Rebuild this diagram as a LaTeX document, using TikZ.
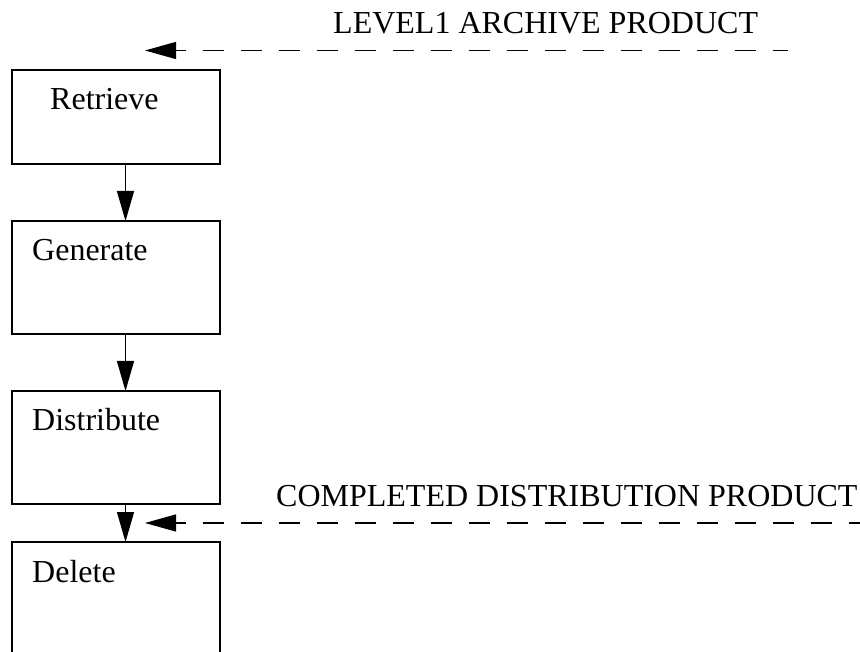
\documentclass[tikz,border=0pt]{standalone}
\usepackage{fontspec}
\setmainfont{Liberation Serif}
\usetikzlibrary{arrows.meta}
\begin{document}
\begin{tikzpicture}[x=1pt,y=-1pt,
  stage/.style={draw, line width=1.3pt, inner sep=0pt, outer sep=0pt,
    minimum width=208pt, anchor=north west},
  lbl/.style={anchor=base west, inner sep=0pt, font=\fontsize{32}{36}\selectfont},
  flow/.style={line width=1.3pt, -{Triangle[length=30pt,width=17pt]}},
  feed/.style={line width=1.3pt, dash pattern=on 21pt off 17pt, dash phase=11pt,
    {Triangle[length=31pt,width=17pt]}-}
]
\useasboundingbox (0,0) rectangle (860,652);

% process stages
\node[stage, minimum height=94pt]  (ret) at (12,70)  {};
\node[stage, minimum height=113pt] (gen) at (12,221) {};
\node[stage, minimum height=113pt] (dis) at (12,391) {};
\node[stage, minimum height=114pt] (del) at (12,542) {};

\node[lbl] (tret) at (50,110) {Retrieve};
\node[lbl] (tgen) at (32,261) {Generate};
\node[lbl] (tdis) at (32,430) {Distribute};
\node[lbl] (tdel) at (32,582) {Delete};

% control flow between stages
\coordinate (col) at (125.5,0);
\draw[flow] (ret.south -| col) -- (gen.north -| col);
\draw[flow] (gen.south -| col) -- (dis.north -| col);
\draw[flow] (dis.south -| col) -- (del.north -| col);

% incoming data products
\coordinate (in1)  at (145,50.5);
\coordinate (src1) at (788,50.5);
\coordinate (in2)  at (145,523);
\coordinate (src2) at (875,523);
\draw[feed] (in1) -- (src1);
\draw[feed] (in2) -- (src2);

\node[lbl] (lvl) at (333,34)  {LEVEL1 ARCHIVE PRODUCT};
\node[lbl] (cdp) at (276,506) {COMPLETED DISTRIBUTION PRODUCT};
\end{tikzpicture}
\end{document}
